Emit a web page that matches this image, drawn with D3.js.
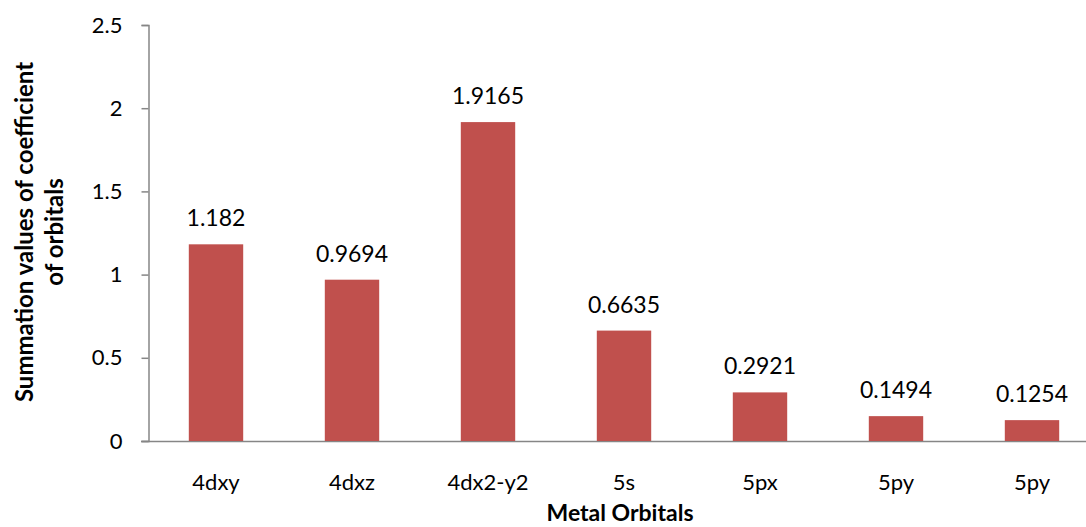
<!DOCTYPE html>
<html>
<head>
<meta charset="utf-8">
<script src="https://cdn.jsdelivr.net/npm/d3@7"></script>
<style>
  body { margin: 0; background: #fff; }
  svg text { font-family: Lato, "Open Sans", sans-serif; fill: #000; }
</style>
</head>
<body>
<svg id="chart" width="1086" height="527"></svg>
<script>
// -- data -- //
let orbitals = ["4dxy", "4dxz", "4dx2-y2", "5s", "5px", "5py", "5py"];
let sums = [1.182, 0.9694, 1.9165, 0.6635, 0.2921, 0.1494, 0.1254];
let labels = ["1.182", "0.9694", "1.9165", "0.6635", "0.2921", "0.1494", "0.1254"];
let yTicks = [0, 0.5, 1, 1.5, 2, 2.5];

let svg = d3.select("#chart");
let plotLeft = 148, plotRight = 1100, plotTop = 25, plotBottom = 441;
let axisColor = "#868686";

let idx = orbitals.map((d, i) => i);
let xScale = d3.scaleBand().domain(idx).range([plotLeft, plotRight]).paddingInner(0.6).paddingOuter(0.3);
let yScale = d3.scaleLinear().domain([0, 2.5]).range([plotBottom, plotTop]);

// -- y axis -- //
let yAxis = d3.axisLeft(yScale).tickValues(yTicks).tickFormat(d => String(d)).tickSize(7).tickPadding(19);
let yg = svg.append("g")
    .attr("transform", `translate(${plotLeft + 0.5}, 0)`)
    .call(yAxis);
yg.select(".domain").attr("stroke", axisColor).attr("stroke-width", 1.5);
yg.selectAll(".tick line").attr("stroke", axisColor).attr("stroke-width", 1.5);
yg.selectAll(".tick text").style("font-size", "22px").attr("fill", "#000");

// -- x axis line -- //
svg.append("line")
    .attr("x1", plotLeft - 7).attr("x2", 1086)
    .attr("y1", plotBottom + 0.5).attr("y2", plotBottom + 0.5)
    .attr("stroke", axisColor).attr("stroke-width", 1.5);

// -- bars -- //
svg.selectAll(".bar")
    .data(idx)
    .enter()
    .append("rect")
    .attr("class", "bar")
    .attr("x", i => xScale(i))
    .attr("y", i => yScale(sums[i]))
    .attr("width", xScale.bandwidth())
    .attr("height", i => plotBottom - yScale(sums[i]))
    .style("fill", "#C0504D");

// -- value labels -- //
svg.selectAll(".val")
    .data(idx)
    .enter()
    .append("text")
    .attr("class", "val")
    .attr("x", i => xScale(i) + xScale.bandwidth() / 2)
    .attr("y", i => yScale(sums[i]) - 18)
    .attr("text-anchor", "middle")
    .style("font-size", "23px")
    .text(i => labels[i]);

// -- category labels -- //
svg.selectAll(".cat")
    .data(idx)
    .enter()
    .append("text")
    .attr("class", "cat")
    .attr("x", i => xScale(i) + xScale.bandwidth() / 2)
    .attr("y", 490)
    .attr("text-anchor", "middle")
    .style("font-size", "22px")
    .text(i => orbitals[i]);

// -- axis titles -- //
svg.append("text")
    .attr("x", 620).attr("y", 521)
    .attr("text-anchor", "middle")
    .style("font-size", "23px").style("font-weight", "bold")
    .text("Metal Orbitals");

let yTitle = svg.append("text")
    .attr("transform", "translate(0, 232) rotate(-90)")
    .attr("text-anchor", "middle")
    .style("font-size", "24px").style("font-weight", "bold");
yTitle.append("tspan").attr("x", 0).attr("y", 33).text("Summation values of coefficient");
yTitle.append("tspan").attr("x", 0).attr("y", 63).text("of orbitals");
</script>
</body>
</html>
